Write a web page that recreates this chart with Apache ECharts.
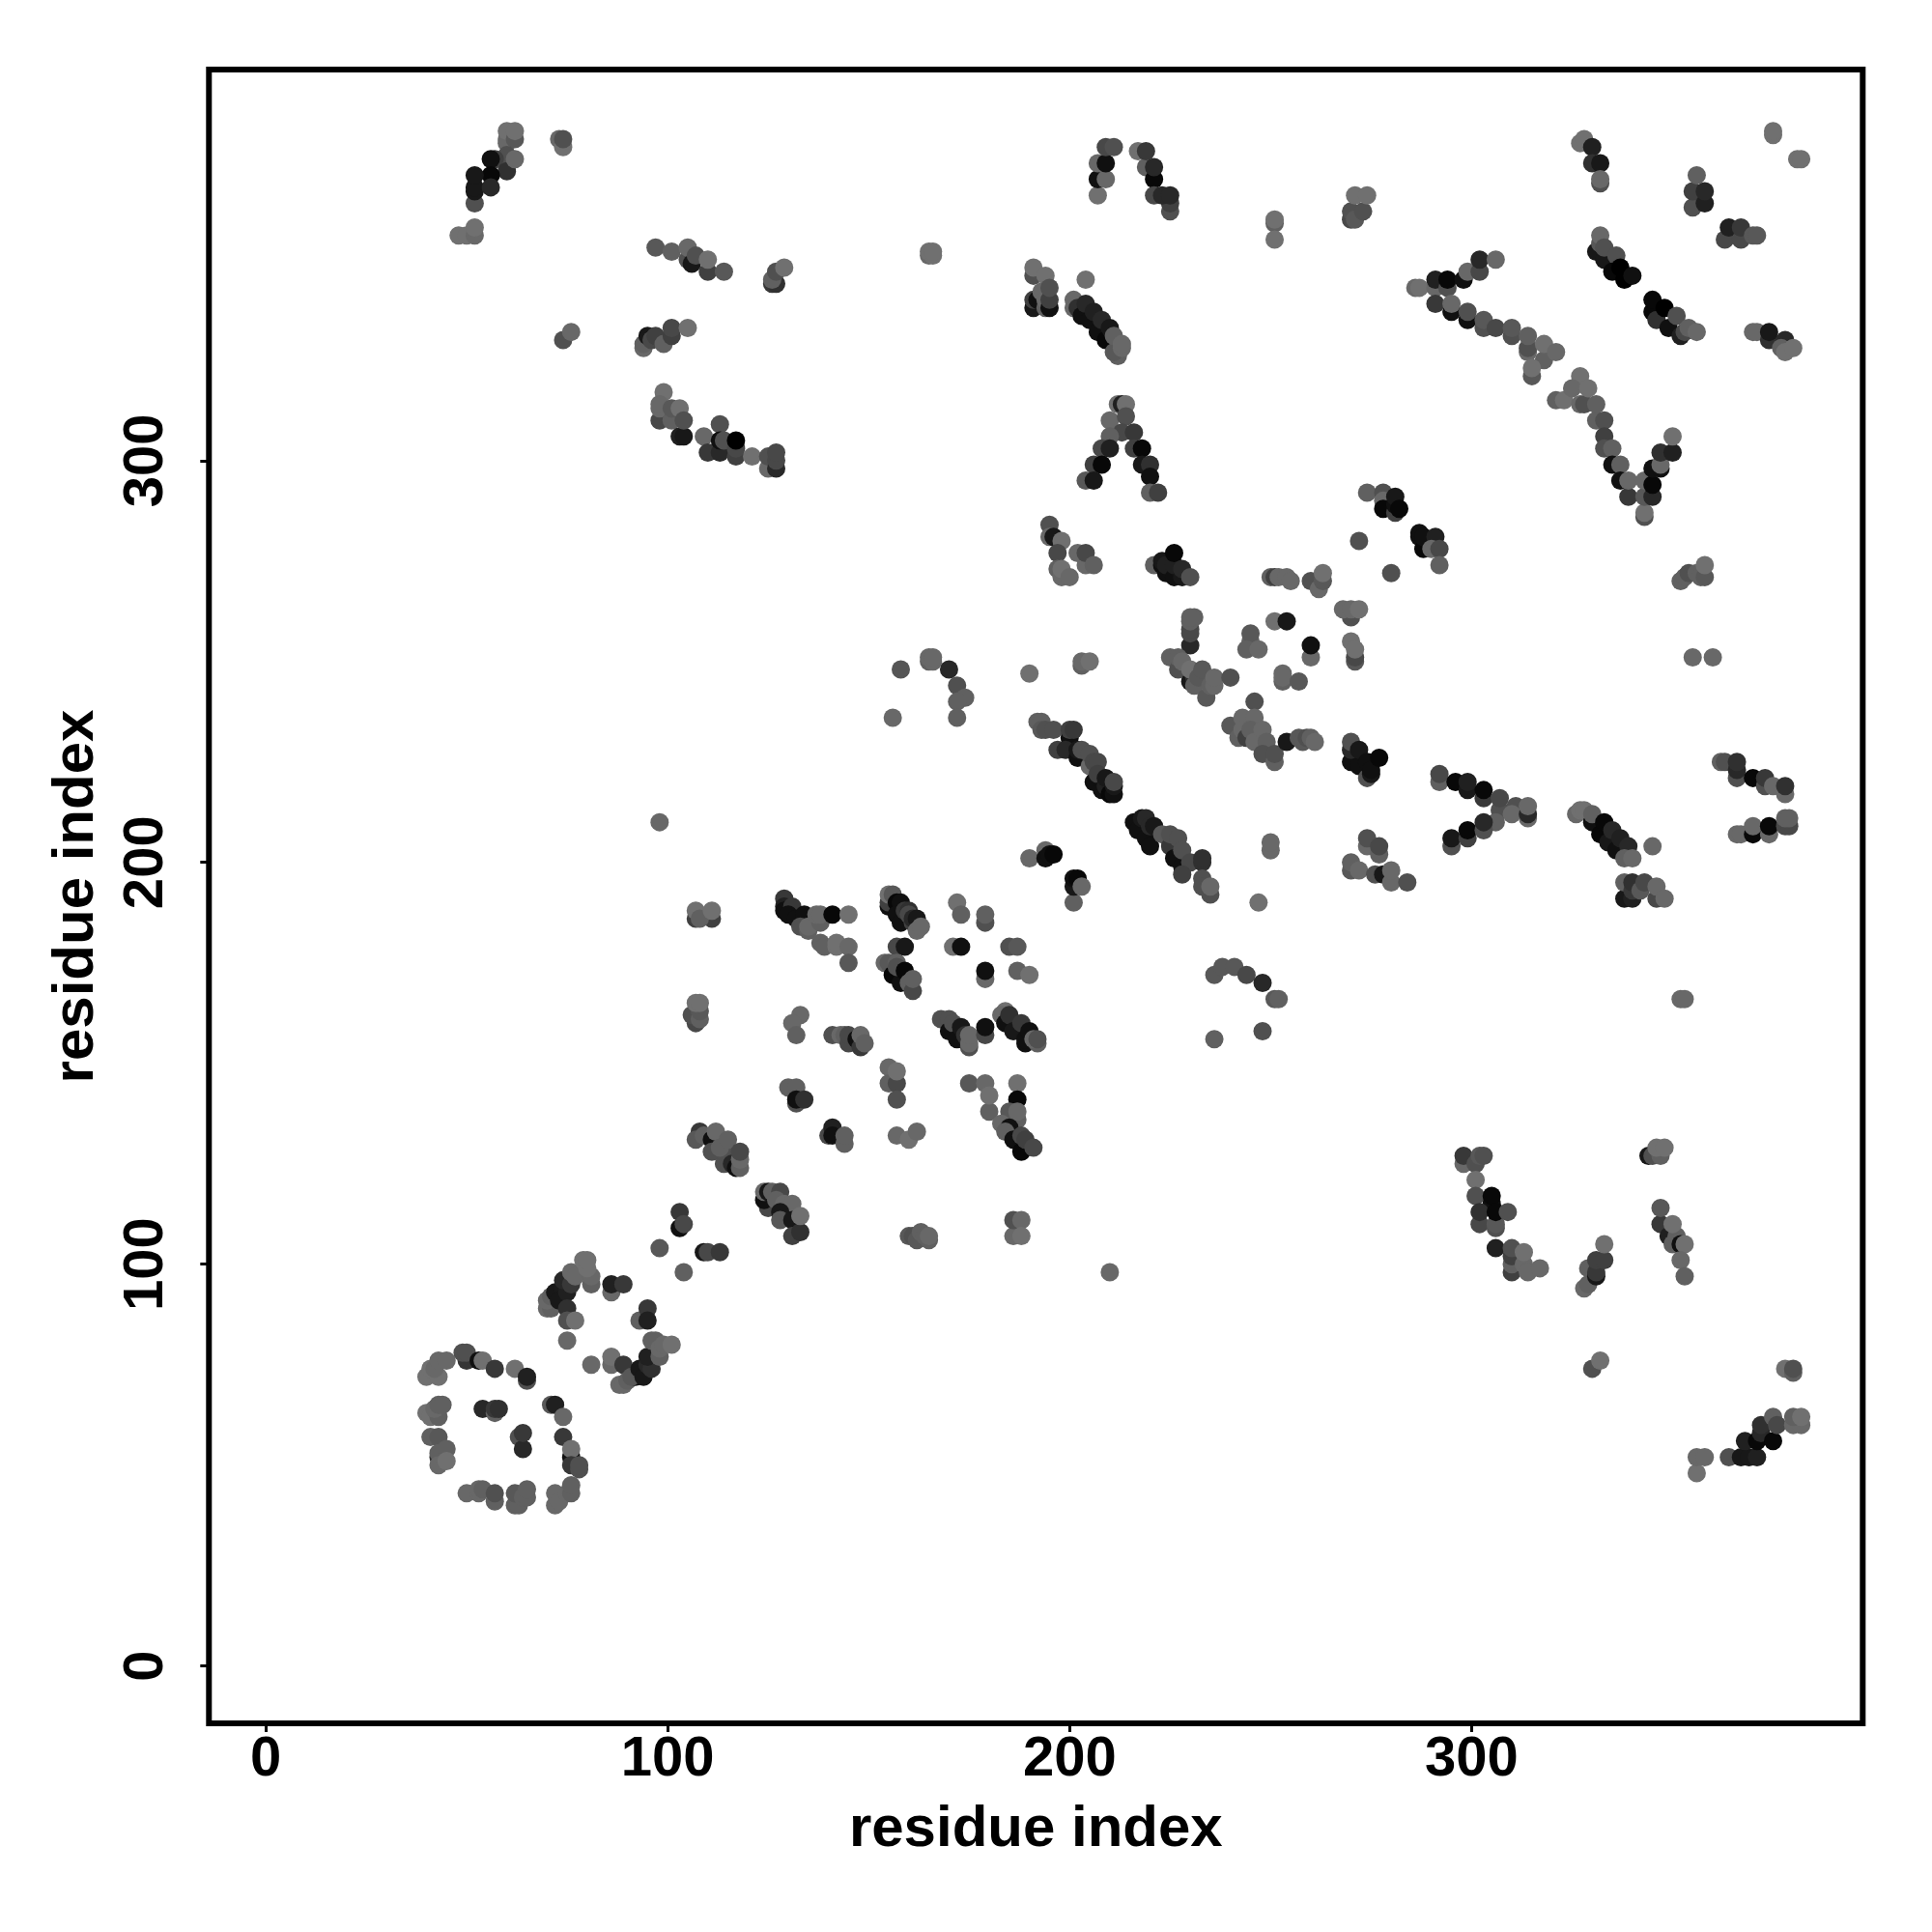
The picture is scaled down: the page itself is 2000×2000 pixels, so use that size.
<!DOCTYPE html>
<html><head><meta charset="utf-8">
<style>html,body{margin:0;padding:0;background:#fff}#c{width:2000px;height:2000px}</style>
<script src="https://cdn.jsdelivr.net/npm/echarts@6/dist/echarts.min.js"></script>
</head><body><div id="c"></div>
<script>
// each contact: [residue i, residue j, grey level]
const ringA=[[40,72,0x70],[41,74,0x70],[43,72,0x70],[42,74,0x68],[43,76,0x68],[45,76,0x68],[50,76,0x35],[49,78,0x50],[50,78,0x50],[53,76,0x10],[54,76,0x70],[57,74,0x38],[62,74,0x70],[65,71,0x50],[65,72,0x20],
[40,63,0x70],[41,62,0x70],[43,62,0x60],[42,64,0x68],[43,65,0x60],[44,65,0x60],[54,64,0x28],[57,63,0x60],[57,64,0x38],[58,64,0x30],[63,57,0x50],[64,54,0x28],[64,58,0x38],[71,65,0x58],[72,65,0x20],[74,62,0x68],[74,57,0x38],[76,52,0x10],[76,54,0x70],[76,50,0x38],[78,49,0x50],[78,50,0x50],
[41,57,0x60],[43,57,0x58],[43,52,0x30],[43,53,0x60],[45,54,0x60],[43,50,0x68],[45,51,0x70],[50,43,0x68],[53,43,0x68],[53,44,0x68],[54,44,0x60],[57,41,0x60],[57,43,0x50],[62,40,0x60],[63,40,0x60],[62,43,0x58],[64,42,0x60],[65,42,0x60],[65,44,0x60],[72,40,0x68],[72,43,0x68],[73,41,0x68],[75,43,0x68],[76,43,0x60],[76,45,0x60]];
const ringB=[[70,89,0x68],[71,89,0x60],[70,91,0x68],[71,92,0x60],[72,93,0x18],[74,94,0x1a],[73,91,0x18],[75,93,0x20],[74,96,0x28],[76,95,0x38],[75,89,0x30],[75,86,0x50],[77,86,0x70],[75,81,0x68],[76,98,0x68],[77,97,0x68],[81,95,0x60],[81,97,0x68],[79,101,0x70],[80,99,0x70],[80,101,0x70],[86,93,0x68],[86,95,0x20],[89,95,0x38],[93,86,0x60],[95,89,0x38],[95,86,0x20],
[81,75,0x68],[86,75,0x68],[86,77,0x70],[89,75,0x38],[88,70,0x68],[89,70,0x68],[90,71,0x60],[92,72,0x10],[91,72,0x58],[93,74,0x18],[94,72,0x18],[95,75,0x28],[96,74,0x30],[95,77,0x20],[96,81,0x60],[97,81,0x60],[98,77,0x60],[98,79,0x68],[99,80,0x68],[101,80,0x70]];
const stripC=[[98,104,0x58],[103,109,0x10],[103,113,0x38],[104,110,0x48],[104,98,0x60],[109,103,0x18],[110,103,0x48],[113,103,0x38],
[125,114,0x48],[124,116,0x10],[124,118,0x68],[125,118,0x18],[126,118,0x60],[128,118,0x48],[127,116,0x60],[129,115,0x68],[131,115,0x68],[128,113,0x18],[128,111,0x58],[131,111,0x18],[131,107,0x40],[133,108,0x30],[133,112,0x70],
[108,133,0x38],[107,131,0x58],[109,132,0x60],[111,131,0x10],[112,133,0x68],[111,128,0x50],[114,125,0x50],[114,128,0x50],[113,129,0x60],[115,131,0x60],[116,125,0x28],[117,124,0x10],[118,124,0x60],[118,126,0x68],[118,128,0x48],
[107,186,0x40],[111,186,0x40],[107,188,0x70],[108,186,0x60],[111,188,0x70],[107,160,0x48],[106,162,0x50],[108,161,0x60],[108,163,0x58],[107,165,0x70],[108,165,0x70]];
const bandD=[[129,191,0x38],[129,189,0x20],[129,188,0x10],[131,188,0x48],[131,189,0x38],[130,187,0x10],[132,186,0x10],[134,187,0x10],[133,184,0x50],[135,183,0x60],[135,184,0x68],[138,185,0x60],[137,187,0x68],[138,187,0x68],[141,187,0x08],[145,187,0x70],[138,180,0x60],[139,179,0x60],[142,179,0x70],[142,180,0x70],[145,179,0x68],[145,175,0x58],
[155,189,0x10],[155,190,0x40],[155,192,0x70],[156,192,0x58],[157,190,0x08],[158,190,0x10],[157,187,0x10],[158,185,0x10],[159,188,0x38],[160,188,0x30],[160,187,0x48],[161,185,0x40],[161,186,0x28],[162,186,0x18],[162,183,0x68],[163,184,0x68],
[157,179,0x48],[159,179,0x18],[154,175,0x68],[155,175,0x58],[156,172,0x08],[158,170,0x10],[157,175,0x60],[157,174,0x50],[159,173,0x08],[160,170,0x60],[161,168,0x48],[161,171,0x60],
[172,190,0x70],[173,187,0x60],[179,185,0x50],[179,187,0x60],[171,179,0x70],[173,179,0x10],[185,179,0x50],[187,179,0x58],[179,171,0x68],[179,173,0x10],[187,173,0x60],[190,172,0x70]];
const bandE=[[133,162,0x68],[131,160,0x68],[132,157,0x60],[141,157,0x50],[143,157,0x68],[144,157,0x60],[145,155,0x48],[145,157,0x48],[147,156,0x10],[148,154,0x38],[148,157,0x68],[149,155,0x60],
[155,149,0x68],[155,145,0x60],[157,145,0x48],[157,141,0x50],[157,148,0x70],[130,144,0x60],[132,144,0x60],[132,140,0x50],[132,141,0x10],[134,141,0x30],[140,132,0x48],[141,134,0x20],[141,132,0x10],[144,130,0x60],[144,132,0x60],[157,132,0x68],[160,131,0x70],[162,133,0x68],
[160,107,0x58],[161,107,0x50],[162,106,0x58],[163,108,0x60],[164,107,0x60],[165,106,0x60],[165,107,0x68],[186,107,0x68],[186,111,0x50],[188,111,0x68],[188,107,0x70],[210,98,0x68],
[168,161,0x50],[170,161,0x50],[170,158,0x10],[171,160,0x50],[172,156,0x10],[173,159,0x18],[174,157,0x30],[175,154,0x50],[175,155,0x68],[175,157,0x68],[179,157,0x48],[179,159,0x10],
[184,163,0x70],[183,162,0x68],[184,160,0x10],[185,162,0x30],[186,158,0x18],[188,160,0x38],[189,155,0x10],[189,156,0x10],[190,158,0x10],[192,155,0x60],[191,156,0x68],[192,156,0x50],
[175,145,0x58],[179,145,0x68],[180,138,0x60],[180,142,0x70],[187,145,0x70],[187,141,0x08],[185,138,0x58],[187,136,0x60],[187,138,0x68],[183,135,0x68],[185,134,0x10],[184,133,0x60],[186,131,0x10],[188,128,0x08],[188,132,0x48],[189,131,0x40],[191,129,0x48]];
const diagF=[[190,201,0x68],[194,203,0x68],[194,201,0x10],[195,202,0x10],[196,202,0x08],[201,190,0x60],[201,194,0x18],[201,196,0x10],[202,196,0x08],[203,194,0x68],
[192,235,0x60],[193,235,0x60],[193,233,0x58],[194,233,0x50],[196,233,0x50],[200,231,0x10],[200,233,0x40],[201,233,0x38],[197,228,0x40],[199,228,0x28],[202,226,0x10],[202,228,0x18],[203,228,0x50],[205,224,0x68],[205,227,0x50],[206,225,0x48],[207,225,0x48],[206,220,0x10],[207,222,0x40],[208,218,0x10],[209,219,0x20],[209,221,0x18],[210,217,0x08],[211,217,0x10],[211,219,0x18],[211,220,0x48],
[216,210,0x10],[217,208,0x10],[218,211,0x18],[219,211,0x28],[219,206,0x10],[220,204,0x10],[220,209,0x28],[221,209,0x18],[223,207,0x58],[225,204,0x38],[225,207,0x50],[227,206,0x50],[226,201,0x10],[228,199,0x10],[228,203,0x50],[230,200,0x48],[228,197,0x40],[233,200,0x30],[233,201,0x30],[233,196,0x50],[233,194,0x50],[235,192,0x50],[235,194,0x68],[247,190,0x70],[250,203,0x68],[250,205,0x68]];
const clusterG=[[195,284,0x50],[195,281,0x68],[196,281,0x18],[198,280,0x70],[197,277,0x48],[202,277,0x68],[204,274,0x68],[204,277,0x48],[206,274,0x60],[197,273,0x60],[198,271,0x68],[198,273,0x70],[200,271,0x68],
[221,274,0x60],[223,274,0x10],[223,275,0x18],[224,272,0x10],[224,274,0x20],[226,271,0x10],[226,274,0x20],[226,277,0x08],[228,271,0x18],[228,273,0x28],[230,271,0x50],
[230,254,0x28],[230,257,0x48],[230,258,0x48],[230,260,0x60],[231,261,0x60],[230,261,0x60],[225,251,0x60],[227,248,0x50],[227,251,0x60],[228,250,0x68],[230,245,0x18],[231,246,0x30],[231,244,0x60],[230,248,0x70],[232,246,0x58],[233,248,0x58],[234,241,0x58],[235,244,0x60],[236,244,0x68],[236,246,0x68],[240,246,0x50],
[203,249,0x60],[203,250,0x68],[205,250,0x70],[190,247,0x70],[245,255,0x60],[245,257,0x58],[244,253,0x60],[247,253,0x68],[251,260,0x70],[254,260,0x18],[260,251,0x68],[260,254,0x10],[253,245,0x60],[253,247,0x68],[253,246,0x68],[257,245,0x58],
[250,271,0x60],[251,271,0x40],[252,271,0x68],[254,271,0x68],[255,270,0x68],[260,270,0x50],[262,268,0x68],[263,270,0x58],[263,272,0x70],[270,261,0x50],[268,263,0x68],[270,263,0x68],[272,263,0x70],[271,250,0x58],[271,251,0x48],[270,255,0x70],[271,253,0x70],
[272,280,0x50],[280,272,0x50],[274,292,0x60],[278,292,0x50],[278,290,0x68],[278,288,0x08],[281,287,0x40],[281,289,0x10],[281,291,0x18],[282,288,0x08],[287,281,0x10],[287,282,0x10],[288,278,0x08],[288,281,0x10],[291,281,0x20],[290,278,0x68],[292,278,0x48],[292,274,0x60]];
const clusterH=[[246,240,0x50],[240,234,0x58],[243,236,0x68],[246,236,0x68],[242,231,0x60],[243,233,0x68],[244,231,0x40],[245,233,0x60],[246,230,0x68],[248,233,0x68],[249,228,0x68],[249,230,0x60],[248,227,0x50],[251,225,0x60],[251,227,0x50],
[254,230,0x18],[257,231,0x58],[258,230,0x58],[259,231,0x50],[260,231,0x60],[261,230,0x68],
[270,225,0x10],[270,228,0x28],[270,230,0x50],[272,224,0x10],[272,228,0x18],[274,221,0x50],[274,225,0x10],[275,222,0x18],[275,223,0x10],[277,226,0x08],
[292,220,0x60],[292,222,0x48],[296,220,0x08],[299,218,0x18],[299,220,0x20],[303,216,0x38],[303,218,0x08],[307,213,0x50],[307,216,0x48],[311,214,0x50],[310,212,0x68],[306,210,0x60],[314,211,0x68],[314,212,0x28],[314,214,0x68],
[295,204,0x50],[295,206,0x18],[299,206,0x40],[299,208,0x08],[303,208,0x50],[303,210,0x28],
[274,204,0x68],[274,206,0x50],[277,202,0x60],[277,204,0x48],[270,198,0x58],[270,200,0x60],[272,198,0x68],[276,197,0x50],[278,197,0x18],[280,195,0x68],[280,198,0x68],[284,195,0x50],
[326,212,0x68],[327,213,0x70],[328,213,0x70],[330,210,0x10],[330,212,0x60],[332,207,0x08],[333,210,0x08],[334,205,0x18],[335,208,0x28],[336,203,0x10],[337,206,0x20],[339,204,0x28],[338,201,0x60],[340,201,0x68],[345,204,0x68],
[338,191,0x18],[340,191,0x20],[338,195,0x60],[340,193,0x38],[340,195,0x30],[342,193,0x58],[343,195,0x48],[346,191,0x48],[346,194,0x68],[348,191,0x68],
[362,225,0x60],[363,225,0x50],[366,221,0x50],[366,223,0x28],[366,225,0x30],[370,221,0x08],[373,219,0x50],[373,221,0x38],[375,219,0x68],[378,217,0x68],[378,219,0x30],
[366,207,0x68],[367,207,0x68],[370,207,0x08],[370,209,0x68],[374,207,0x68],[374,209,0x08],[378,209,0x48],[379,209,0x48],[378,211,0x60],[379,211,0x60]];
const topI=[[207,366,0x70],[207,370,0x10],[209,370,0x68],[207,374,0x68],[209,374,0x10],[209,378,0x48],[211,378,0x50],[217,377,0x70],[219,373,0x60],[219,377,0x38],[221,370,0x08],[221,373,0x28],[221,366,0x48],[225,362,0x50],[225,364,0x40],[223,366,0x28],[225,366,0x28],
[251,359,0x60],[251,360,0x70],[251,355,0x70],[270,360,0x48],[270,362,0x50],[271,360,0x58],[273,362,0x50],[271,366,0x70],[274,366,0x70],
[191,338,0x18],[191,340,0x40],[191,346,0x50],[191,348,0x70],[194,346,0x70],[192,340,0x10],[194,338,0x60],[193,342,0x68],[194,340,0x68],[195,338,0x10],[195,340,0x40],[195,343,0x50],[204,345,0x70],
[201,338,0x68],[201,340,0x68],[202,338,0x30],[203,336,0x10],[204,339,0x28],[205,335,0x10],[206,337,0x20],[207,332,0x10],[208,335,0x28],[209,330,0x08],[210,333,0x18],[212,326,0x60],[211,327,0x58],[211,331,0x60],[213,328,0x68],[213,329,0x68],
[212,314,0x70],[213,314,0x20],[214,314,0x70],[210,310,0x68],[214,311,0x50],[213,307,0x48],[210,306,0x60],[216,307,0x38],[208,303,0x48],[210,303,0x20],[216,303,0x40],[218,303,0x08],[206,299,0x40],[208,299,0x08],[218,299,0x18],[220,299,0x30],[204,295,0x58],[206,295,0x18],[220,296,0x10],[220,292,0x60],[222,292,0x40]];
const curveJ=[[286,343,0x68],[287,343,0x70],[291,343,0x68],[291,345,0x20],[294,343,0x50],[294,345,0x08],[298,345,0x10],[299,347,0x68],[302,347,0x48],[302,350,0x28],[306,350,0x68],[291,339,0x38],[295,337,0x10],[295,339,0x68],[299,335,0x10],[299,337,0x50],[303,333,0x50],[303,335,0x58],[306,333,0x48],[310,331,0x50],[310,333,0x58],[314,327,0x68],[314,328,0x50],[314,331,0x60],[318,325,0x60],[318,329,0x70],[321,327,0x68],[315,321,0x58],[315,323,0x70],
[321,315,0x60],[323,315,0x70],[327,321,0x70],[325,318,0x68],[327,314,0x68],[328,314,0x50],[329,318,0x70],[331,310,0x60],[331,314,0x60],[333,310,0x50],[333,306,0x40],[333,303,0x50],[335,303,0x60],[335,299,0x10],[337,299,0x60],[337,295,0x10],[339,291,0x38],[339,295,0x68],[343,286,0x50],[343,287,0x70],[343,291,0x58],[343,295,0x68],[345,291,0x28],[345,294,0x08],[345,298,0x10],[347,298,0x10],[347,299,0x68],[347,302,0x30],[350,302,0x20],[350,306,0x70]];
const topK=[[327,379,0x70],[328,380,0x70],[330,378,0x20],[330,374,0x30],[332,374,0x18],[332,369,0x50],[332,370,0x68],
[331,352,0x18],[332,354,0x58],[332,356,0x68],[333,350,0x18],[333,353,0x50],[336,351,0x50],[335,347,0x08],[337,348,0x00],[338,345,0x00],[340,346,0x10],
[345,337,0x08],[345,340,0x08],[346,335,0x30],[348,338,0x00],[349,333,0x10],[351,336,0x50],[352,331,0x20],[353,332,0x48],[354,333,0x60],[356,332,0x68],
[355,363,0x50],[355,367,0x40],[356,371,0x60],[358,364,0x20],[358,367,0x28],[363,355,0x48],[364,358,0x20],[367,355,0x48],[367,358,0x38],[370,356,0x58],[371,356,0x58],[375,381,0x70],[375,382,0x70],[381,375,0x70],[382,375,0x70],
[370,332,0x68],[371,332,0x68],[374,330,0x30],[374,332,0x18],[378,330,0x28],[377,328,0x60],[378,327,0x70],[380,328,0x70]];
const topL=[[60,379,0x68],[60,380,0x68],[60,382,0x70],[62,380,0x58],[62,382,0x70],[60,376,0x50],[57,375,0x40],[56,375,0x10],[60,372,0x30],[62,375,0x68],[56,371,0x08],[52,364,0x50],[52,367,0x18],[52,368,0x18],[52,371,0x18],[56,368,0x28],[48,356,0x70],[50,356,0x70],[52,356,0x68],[52,358,0x70],[73,380,0x68],[74,378,0x70],[74,380,0x50],
[97,353,0x58],[101,352,0x60],[105,350,0x50],[105,353,0x68],[106,349,0x18],[107,351,0x50],[110,347,0x40],[110,350,0x70],[114,347,0x58],[126,344,0x38],[127,344,0x30],[126,345,0x60],[127,347,0x50],[129,348,0x70],
[74,330,0x50],[76,332,0x68],[94,328,0x68],[94,329,0x60],[95,331,0x18],[96,330,0x48],[97,331,0x40],[99,329,0x60],[101,331,0x40],[101,333,0x48],[105,333,0x70],
[99,317,0x70],[98,310,0x48],[98,313,0x68],[98,314,0x68],[101,310,0x60],[101,313,0x58],[103,313,0x70],[103,306,0x20],[104,306,0x18],[104,310,0x50],
[109,306,0x68],[113,309,0x50],[110,302,0x38],[113,302,0x28],[113,305,0x10],[114,305,0x50],[117,301,0x40],[117,303,0x48],[117,305,0x00],[121,301,0x70],[125,298,0x68],[125,301,0x50],[127,298,0x28],[127,300,0x48],[127,302,0x48]];
const lowerM=[[298,125,0x68],[298,127,0x38],[301,125,0x50],[302,127,0x58],[303,127,0x50],[301,121,0x70],[301,117,0x50],[305,115,0x10],[305,117,0x08],[302,110,0x48],[302,113,0x30],[306,109,0x50],[306,110,0x58],[306,113,0x08],[309,113,0x50],
[306,104,0x20],[310,98,0x40],[310,100,0x60],[310,102,0x40],[310,104,0x50],[313,100,0x68],[313,103,0x70],[314,98,0x68],[317,99,0x68],
[328,94,0x68],[329,95,0x60],[329,99,0x60],[331,97,0x18],[331,98,0x38],[331,101,0x40],[333,101,0x40],[333,105,0x70],[330,74,0x50],[332,76,0x70],
[347,110,0x38],[347,114,0x58],[349,107,0x20],[350,105,0x60],[351,107,0x60],[352,105,0x10],[350,110,0x70],[353,105,0x70],[352,101,0x68],[353,97,0x60],
[344,127,0x18],[345,127,0x50],[347,127,0x60],[346,129,0x70],[348,129,0x70],[378,74,0x70],[380,73,0x60],[380,74,0x50],
[356,48,0x70],[356,52,0x68],[358,52,0x68],[364,52,0x50],[367,52,0x18],[369,52,0x18],[371,52,0x20],[368,56,0x20],[371,56,0x08],[372,58,0x28],[375,56,0x08],[372,60,0x30],[375,62,0x60],[376,60,0x48],[380,60,0x68],[382,60,0x68],[380,62,0x60],[382,62,0x70]];
const extraN=[[158,248,0x55],[165,250,0x60],[166,250,0x68],[165,251,0x68],[166,251,0x68],[170,248,0x28],[172,244,0x50],[174,241,0x60],[172,240,0x60],[172,236,0x60],[156,236,0x68],[165,351,0x68],[166,351,0x70],[165,352,0x70],[166,352,0x70],[98,210,0x68],
[236,172,0x58],[238,174,0x58],[241,174,0x58],[244,172,0x48],[248,170,0x28],[251,166,0x58],[252,166,0x60],[248,158,0x50],[236,156,0x60],[352,166,0x68],[353,166,0x68],[355,251,0x68],[360,251,0x68],[352,270,0x60],[353,271,0x60],[354,272,0x50],[356,272,0x60],[357,271,0x60],[358,271,0x58],[358,274,0x70]];
const tickValues=[0,100,200,300];
const axisTitle="residue index";

const contacts=[].concat(ringA,ringB,stripC,bandD,bandE,diagF,clusterG,clusterH,topI,curveJ,topK,topL,lowerM,extraN);
const grey=g=>`rgb(${g},${g},${g})`;
const font="'Liberation Sans',Arial,sans-serif";
const axis=(extra)=>Object.assign({
  type:'value',
  axisLine:{show:false,onZero:false},splitLine:{show:false},
  axisTick:{show:true,length:9,customValues:tickValues,lineStyle:{color:'#000',width:3}},
  axisLabel:{customValues:tickValues,color:'#000',fontFamily:font,fontWeight:'bold',fontSize:58},
  name:axisTitle,nameLocation:'middle',
  nameTextStyle:{color:'#000',fontFamily:font,fontWeight:'bold',fontSize:60}
},extra);
const chart=echarts.init(document.getElementById('c'),null,{renderer:'canvas'});
const xa=axis({min:-14.11,max:397.3,nameGap:80});
xa.axisLabel.margin=9;
const ya=axis({min:-14.25,max:397.3,nameGap:107});
ya.axisLabel.margin=35;ya.axisLabel.rotate=90;
chart.setOption({
  animation:false,backgroundColor:'#fff',
  grid:{left:216.3,top:72,width:1712,height:1712,show:true,borderColor:'#000',borderWidth:6,backgroundColor:'transparent'},
  xAxis:xa,yAxis:ya,
  series:[{type:'scatter',symbol:'circle',symbolSize:19,silent:true,itemStyle:{opacity:1},
    data:contacts.map(p=>({value:[p[0],p[1]],itemStyle:{color:grey(p[2]),opacity:1}}))}]
});
</script></body></html>
